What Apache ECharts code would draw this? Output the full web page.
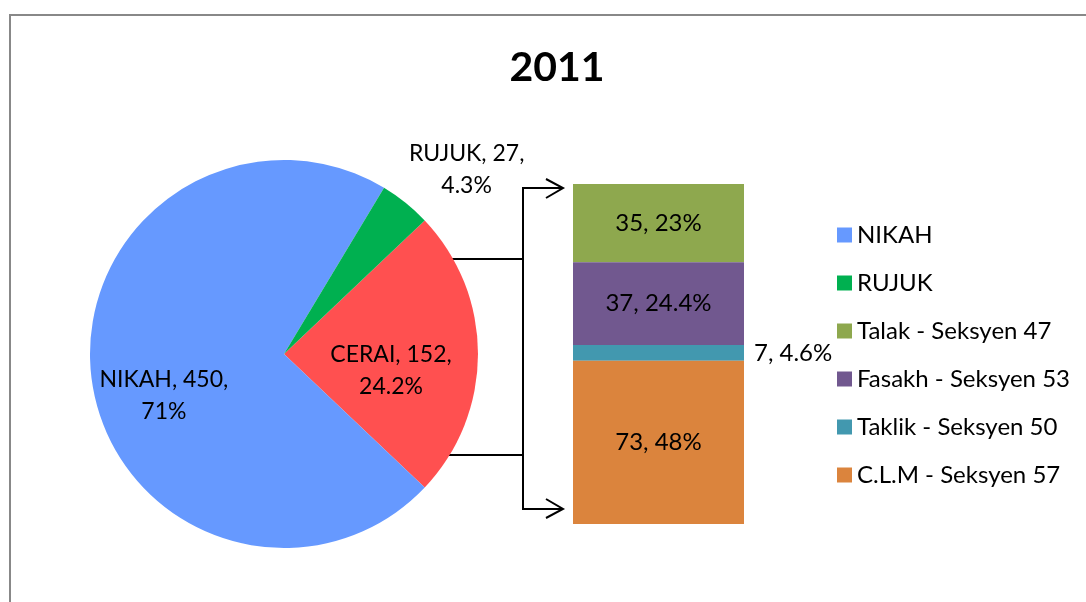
<!DOCTYPE html>
<html>
<head>
<meta charset="utf-8">
<script src="https://cdn.jsdelivr.net/npm/echarts@6/dist/echarts.min.js"></script>
<style>
  html, body { margin: 0; padding: 0; background: #fff; }
  #chart { width: 1086px; height: 602px; }
</style>
</head>
<body>
<div id="chart"></div>
<script>
// pie: jumlah kes 2011
const pieNames = ['CERAI', 'NIKAH', 'RUJUK'];
const pieValues = [152, 450, 27];
const piePct = ['24.2%', '71%', '4.3%'];
const pieColors = ['#FF5050', '#6699FF', '#00B050'];

// pecahan CERAI (bar)
const barNames = ['Talak - Seksyen 47', 'Fasakh - Seksyen 53', 'Taklik - Seksyen 50', 'C.L.M - Seksyen 57'];
const barValues = [35, 37, 7, 73];
const barPct = ['23%', '24.4%', '4.6%', '48%'];
const barColors = ['#8EA84E', '#71588F', '#4298AF', '#DB843D'];

const legendNames = ['NIKAH', 'RUJUK'].concat(barNames);

const FONT = 'Lato';
const chart = echarts.init(document.getElementById('chart'));

const ceraiTotal = barValues.reduce((a, b) => a + b, 0);
// label shifts to mimic excel placement
const pieLabelShift = [[7, 17], [-21, 28], [120, -106]];

const option = {
  animation: false,
  title: {
    text: '2011',
    left: 552,
    top: 42,
    textAlign: 'center',
    textStyle: { fontFamily: FONT, fontSize: 41, fontWeight: 'bold', color: '#000' }
  },
  legend: {
    orient: 'vertical',
    left: 832,
    top: 218,
    data: legendNames,
    icon: 'rect',
    itemWidth: 15,
    itemHeight: 15,
    itemGap: 24,
    selectedMode: false,
    textStyle: { fontFamily: FONT, fontSize: 24, lineHeight: 24, color: '#000' }
  },
  grid: { left: 573, top: 184, width: 171, height: 340 },
  xAxis: { type: 'category', data: ['CERAI'], show: false },
  yAxis: { type: 'value', min: 0, max: ceraiTotal, inverse: true, show: false },
  graphic: [
    { type: 'rect', shape: { x: 10, y: 15, width: 1200, height: 800 },
      style: { fill: 'none', stroke: '#888', lineWidth: 2 }, silent: true },
    { type: 'polyline', shape: { points: [[442, 259], [523, 259]] },
      style: { stroke: '#000', lineWidth: 2, fill: 'none' } },
    { type: 'polyline', shape: { points: [[438, 455], [523, 455]] },
      style: { stroke: '#000', lineWidth: 2, fill: 'none' } },
    { type: 'polyline', shape: { points: [[562, 188], [523, 188], [523, 509], [562, 509]] },
      style: { stroke: '#000', lineWidth: 2, fill: 'none' } },
    { type: 'polyline', shape: { points: [[546, 179], [563, 188], [546, 198]] },
      style: { stroke: '#000', lineWidth: 2, fill: 'none' } },
    { type: 'polyline', shape: { points: [[546, 499], [563, 509], [546, 518]] },
      style: { stroke: '#000', lineWidth: 2, fill: 'none' } }
  ],
  series: [
    {
      type: 'pie',
      center: [284, 354],
      radius: 194,
      startAngle: 43.5,
      clockwise: true,
      silent: true,
      data: pieNames.map((n, i) => ({
        name: n,
        value: pieValues[i],
        itemStyle: { color: pieColors[i] }
      })),
      label: {
        position: 'inside',
        fontFamily: FONT,
        fontSize: 23,
        lineHeight: 32,
        color: '#000',
        align: 'center',
        formatter: p => p.name + ', ' + p.value + ',\n' + piePct[p.dataIndex]
      },
      labelLine: { show: false },
      labelLayout: p => ({ dx: pieLabelShift[p.dataIndex][0], dy: pieLabelShift[p.dataIndex][1] }),
      emphasis: { disabled: true }
    }
  ].concat(barNames.map((n, i) => ({
    type: 'bar',
    name: n,
    stack: 'cerai',
    barWidth: '100%',
    silent: true,
    itemStyle: { color: barColors[i] },
    data: [barValues[i]],
    label: {
      show: true,
      position: barValues[i] < 10 ? 'right' : 'inside',
      distance: 10,
      fontFamily: FONT,
      fontSize: 24,
      color: '#000',
      formatter: p => p.value + ', ' + barPct[i]
    },
    emphasis: { disabled: true }
  })))
};

chart.setOption(option);
</script>
</body>
</html>
